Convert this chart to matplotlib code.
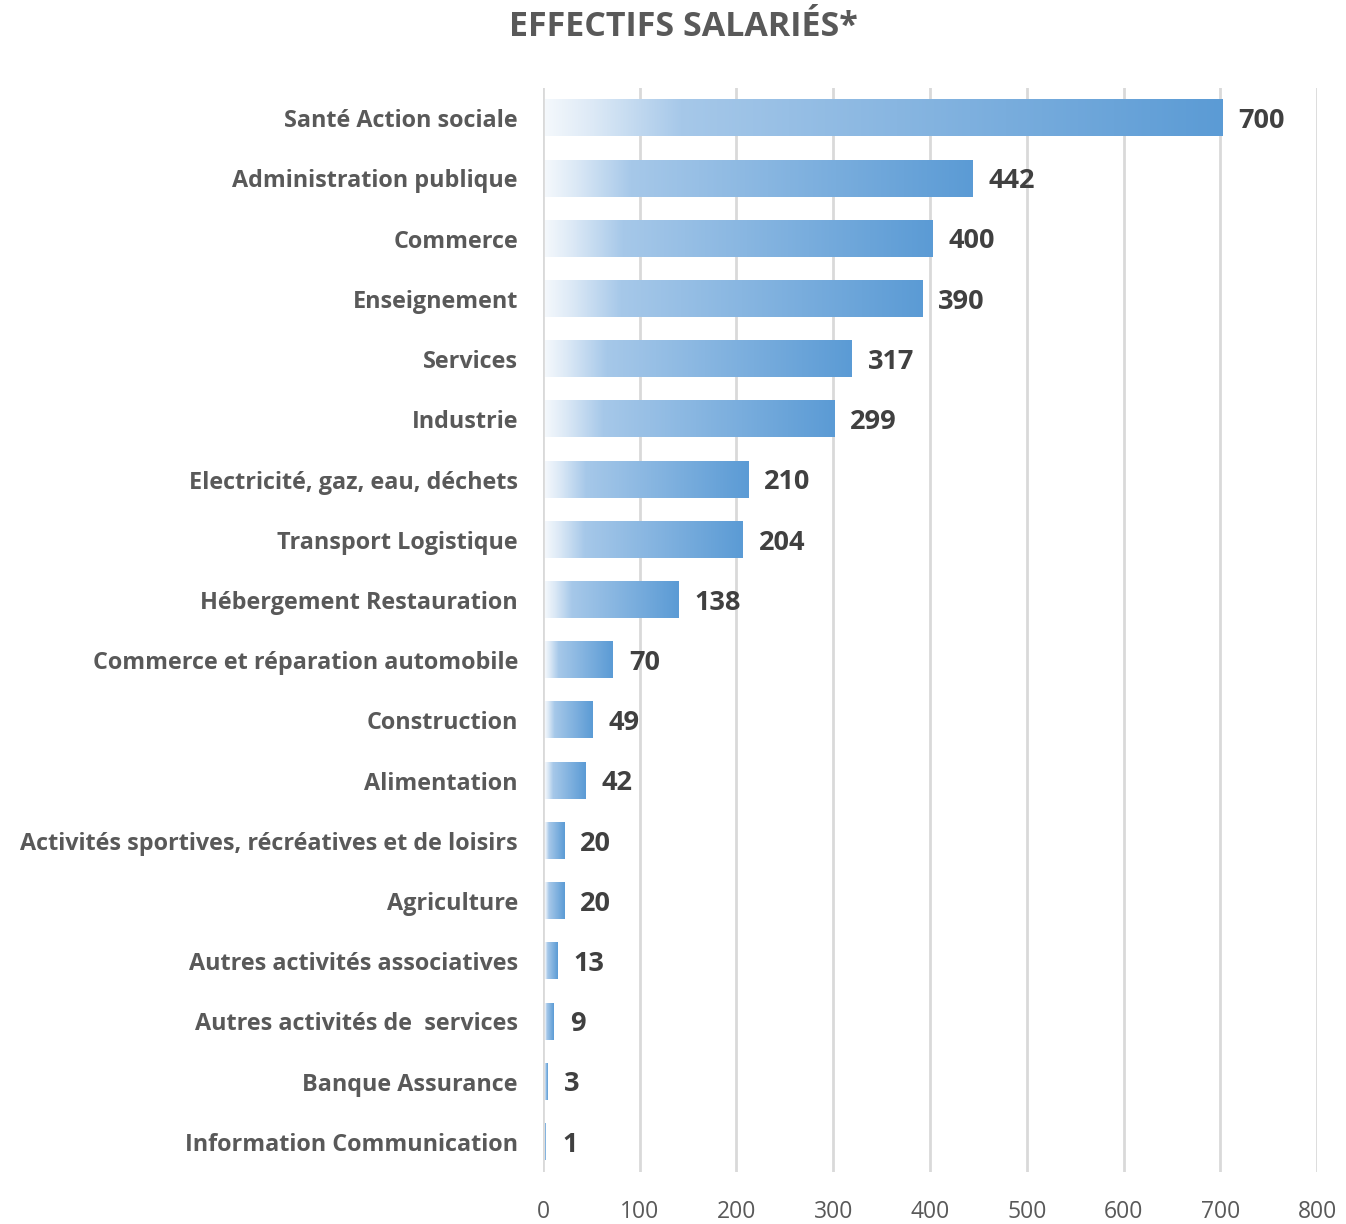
import matplotlib
matplotlib.use('Agg')
import matplotlib.pyplot as plt
from matplotlib.colors import LinearSegmentedColormap
import numpy as np

# data, top to bottom as in the chart
secteurs = [
    "Santé Action sociale", "Administration publique", "Commerce", "Enseignement",
    "Services", "Industrie", "Electricité, gaz, eau, déchets", "Transport Logistique",
    "Hébergement Restauration", "Commerce et réparation automobile", "Construction",
    "Alimentation", "Activités sportives, récréatives et de loisirs", "Agriculture",
    "Autres activités associatives", "Autres activités de  services", "Banque Assurance",
    "Information Communication",
]
effectifs = [700, 442, 400, 390, 317, 299, 210, 204, 138, 70, 49, 42, 20, 20, 13, 9, 3, 1]
ticks_x = [0, 100, 200, 300, 400, 500, 600, 700, 800]

plt.rcParams['font.family'] = ['Open Sans', 'DejaVu Sans']

# white -> light blue -> excel blue, stretched along each bar
grad_cmap = LinearSegmentedColormap.from_list(
    'bar_grad', [(0.0, '#F4F8FC'), (0.07, '#DCE9F6'), (0.2, '#A6C8E9'), (1.0, '#5B9BD5')])

fig = plt.figure(figsize=(13.46, 12.24), dpi=100)
ax = fig.add_axes([0.4034, 0.0425, 0.5751, 0.8855])

n = len(secteurs)
ypos = np.arange(n)[::-1]
bar_h = 0.6
grad = np.linspace(0, 1, 256).reshape(1, -1)

for y, v in zip(ypos, effectifs):
    ax.imshow(grad, cmap=grad_cmap, aspect='auto', interpolation='bilinear',
              extent=[2, v + 2, y - bar_h / 2, y + bar_h / 2], zorder=3)
    ax.annotate(str(v), (v, y), xytext=(13, -2), textcoords='offset points',
                va='center', ha='left', fontsize=19.5, fontweight='bold', color='#404040')

ax.set_xlim(0, 800)
ax.set_ylim(-0.5, n - 0.5)
ax.set_xticks(ticks_x)
ax.set_xticklabels([str(t) for t in ticks_x], fontsize=16.5, color='#595959')
ax.set_yticks(ypos)
ax.set_yticklabels(secteurs, fontsize=16.8, fontweight='bold', color='#595959')
ax.tick_params(axis='both', length=0)
ax.tick_params(axis='y', pad=18)
ax.tick_params(axis='x', pad=20)
ax.grid(axis='x', color='#D9D9D9', linewidth=2, zorder=0)
ax.set_axisbelow(True)
for s in ax.spines.values():
    s.set_visible(False)

fig.text(0.5075, 0.978, "EFFECTIFS SALARIÉS*", ha='center', va='center',
         fontsize=24.5, fontweight='bold', color='#595959')

fig.savefig('out.png', dpi=100)
plt.close(fig)
